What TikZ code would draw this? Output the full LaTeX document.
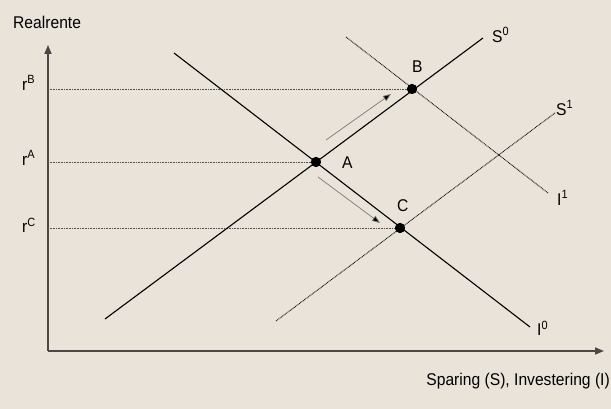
\documentclass[tikz,border=0pt]{standalone}
\usepackage{fontspec}
\setmainfont[FakeStretch=0.92]{Liberation Sans}
\usepackage{xcolor}
\usetikzlibrary{arrows.meta, positioning}
\definecolor{bgBeige}{HTML}{E9E3DA}
\definecolor{axisGrey}{HTML}{4A4744}
\definecolor{guideGrey}{HTML}{4F4F4F}
\definecolor{shiftGrey}{HTML}{7A7A7A}

\tikzset{
  curve/.style={draw=black, line width=1.1pt},
  shifted/.style={draw=black, line width=0.9pt, dash pattern=on 0.8pt off 0.8pt},
  guide/.style={draw=guideGrey, line width=0.9pt, dash pattern=on 0.8pt off 0.8pt},
  eqdot/.style={circle, fill=black, inner sep=0pt, minimum size=10pt},
  lbl/.style={inner sep=0pt, anchor=west},
  move/.style={draw=shiftGrey, line width=0.7pt, -{Triangle[length=8pt, width=6pt, fill=black]}}
}

\begin{document}
\begin{tikzpicture}[x=1pt, y=1pt, font=\fontsize{17}{20}\selectfont]
  \fill[bgBeige] (0,0) rectangle (611,409);
  \useasboundingbox (0,0) rectangle (611,409);

  % axes
  \coordinate (O) at (48,58);
  \coordinate (ytop) at (48,364);
  \coordinate (xend) at (604,58);
  \draw[axisGrey, line width=1.6pt, -{Triangle[length=9pt, width=7pt]}] (O) -- (ytop);
  \draw[axisGrey, line width=1.6pt, -{Triangle[length=9pt, width=7pt]}] (O) -- (xend);
  \node[lbl] (ylabel) at (13,387) {Realrente};
  \node[inner sep=0pt, anchor=east] (xlabel) at (610,28) {Sparing (S), Investering (I)};

  % curve end points
  \coordinate (s0a) at (105,90);
  \coordinate (s0b) at (483,371);
  \coordinate (i0a) at (174,356);
  \coordinate (i0b) at (530,82);
  \coordinate (s1a) at (276,88);
  \coordinate (s1b) at (555,296);
  \coordinate (i1a) at (346,372);
  \coordinate (i1b) at (548,216);

  % equilibria
  \node[eqdot] (A) at (316,247) {};
  \node[eqdot] (B) at (412,320) {};
  \node[eqdot] (C) at (400,181) {};

  % guide lines to the axis
  \foreach \pt/\y in {A/247, B/320, C/181}{
    \coordinate (r\pt) at (48,\y);
    \draw[guide] (r\pt) -- (\pt);
  }

  \draw[shifted] (s1a) -- (s1b);
  \draw[shifted] (i1a) -- (i1b);
  \draw[curve] (s0a) -- (s0b);
  \draw[curve] (i0a) -- (i0b);

  % redraw dots on top
  \foreach \pt in {A, B, C}{
    \fill (\pt) circle (5pt);
  }

  % shift arrows
  \coordinate (ab1) at (326,269);
  \coordinate (ab2) at (391,315);
  \coordinate (ac1) at (318,232);
  \coordinate (ac2) at (380,186);
  \draw[move] (ab1) -- (ab2);
  \draw[move] (ac1) -- (ac2);

  % labels
  \node[lbl] (lA) at (342,246) {A};
  \node[lbl] (lB) at (412,342) {B};
  \node[lbl] (lC) at (397,203) {C};
  \node[lbl] (lS0) at (492,374) {S\textsuperscript{0}};
  \node[lbl] (lS1) at (556,301) {S\textsuperscript{1}};
  \node[lbl] (lI0) at (537,81) {I\textsuperscript{0}};
  \node[lbl] (lI1) at (557,211) {I\textsuperscript{1}};
  \node[lbl] (lrB) at (22,326) {r\textsuperscript{B}};
  \node[lbl] (lrA) at (22,251) {r\textsuperscript{A}};
  \node[lbl] (lrC) at (22,184) {r\textsuperscript{C}};
\end{tikzpicture}
\end{document}
